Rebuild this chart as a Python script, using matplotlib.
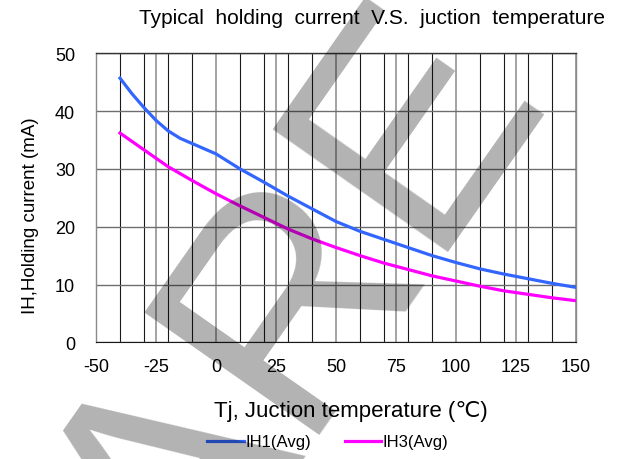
import matplotlib
matplotlib.use("Agg")
import matplotlib.pyplot as plt
import numpy as np
from matplotlib.ticker import MultipleLocator

plt.rcParams['font.family'] = ['Liberation Sans', 'DejaVu Sans']
plt.rcParams['axes.unicode_minus'] = False

temps_ih1 = [-40, -35, -30, -25, -20, -15, -10, -5, 0, 10, 20, 30, 40, 50, 60, 70, 80, 90, 100, 110, 120, 130, 140, 150]
ih1 = [45.7, 43.0, 40.6, 38.4, 36.6, 35.3, 34.4, 33.5, 32.6, 30.0, 27.7, 25.3, 23.1, 20.9, 19.2, 17.8, 16.4, 15.0, 13.8, 12.7, 11.8, 11.0, 10.2, 9.5]
temps_ih3 = [-40, -30, -20, -10, 0, 10, 20, 30, 40, 50, 60, 70, 80, 90, 100, 110, 120, 130, 140, 150]
ih3 = [36.2, 33.3, 30.4, 28.0, 25.7, 23.6, 21.6, 19.6, 17.9, 16.4, 15.0, 13.7, 12.6, 11.5, 10.6, 9.7, 8.9, 8.3, 7.7, 7.2]
xticks = [-50, -25, 0, 25, 50, 75, 100, 125, 150]
yticks = [0, 10, 20, 30, 40, 50]

fig = plt.figure(figsize=(6.19, 4.60), dpi=100)
ax = fig.add_axes([96/619, 1-343.3/460, 480/619, (343.3-54.3)/460])

ax.set_xlim(-50, 150)
ax.set_ylim(0, 50)
ax.set_xticks(xticks)
ax.set_yticks(yticks)
ax.xaxis.set_minor_locator(MultipleLocator(10))
ax.grid(which='minor', axis='x', color='#1a1a1a', lw=0.8)
ax.grid(which='major', axis='x', color='#8a8a8a', lw=1.1)
ax.grid(which='major', axis='y', color='#6e6e6e', lw=1.0)
ax.set_axisbelow(True)
for s in ['left', 'right', 'top']:
    ax.spines[s].set_color('#8a8a8a')
    ax.spines[s].set_linewidth(1.0)
ax.spines['top'].set_color('#333333')
ax.spines['bottom'].set_color('#1a1a1a')
ax.tick_params(which='both', length=0, labelsize=13)
ax.tick_params(axis='x', pad=11)
ax.tick_params(axis='y', pad=15)

ax.plot(temps_ih1, ih1, color='#3366ff', lw=2.3, label='IH1(Avg)', zorder=3)
ax.plot(temps_ih3, ih3, color='#ff00ff', lw=2.3, label='IH3(Avg)', zorder=3)

ax.set_ylabel('IH,Holding current (mA)', fontsize=13.5)
ax.yaxis.set_label_coords(-0.119, 0.44)
ax.set_xlabel('Tj, Juction temperature (\u2103)', fontsize=16)
ax.xaxis.set_label_coords(0.53, -0.20)

fig.text(372/619, 1-18/460, 'Typical  holding  current  V.S.  juction  temperature',
         ha='center', va='center', fontsize=15)

ax.legend(loc='center', bbox_to_anchor=(328/619, 1-443/460), bbox_transform=fig.transFigure,
          ncol=2, frameon=False, fontsize=12, handlelength=2.2, handletextpad=0.1,
          columnspacing=2.0)

fig.text(187/619, 1-624/460, 'ARE', rotation=55, rotation_mode='anchor',
         ha='left', va='baseline', fontsize=223, color='black', alpha=0.3, zorder=10)

fig.savefig('out.png', dpi=100)
